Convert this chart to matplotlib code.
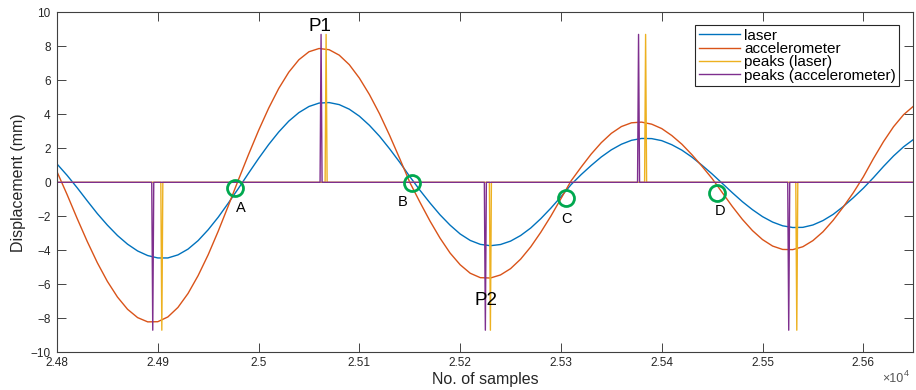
import numpy as np
import matplotlib
matplotlib.use("Agg")
import matplotlib.pyplot as plt

plt.rcParams['font.family'] = ['Liberation Sans', 'DejaVu Sans']

# samples every 10
x_start, x_step = 24800, 10
laser = [1.08, 0.41, -0.32, -1.09, -1.84, -2.52, -3.13, -3.64, -4.04, -4.31,
         -4.45, -4.45, -4.27, -3.93, -3.43, -2.79, -2.05, -1.22, -0.36, 0.53,
         1.40, 2.22, 2.96, 3.60, 4.10, 4.46, 4.66, 4.69, 4.57, 4.30,
         3.89, 3.35, 2.71, 1.97, 1.18, 0.34, -0.46, -1.21, -1.91, -2.52,
         -3.04, -3.42, -3.65, -3.73, -3.66, -3.46, -3.13, -2.69, -2.14, -1.52,
         -0.85, -0.14, 0.45, 0.99, 1.49, 1.91, 2.24, 2.47, 2.58, 2.57,
         2.45, 2.21, 1.89, 1.48, 1.00, 0.49, -0.06, -0.61, -1.14, -1.61,
         -2.02, -2.34, -2.56, -2.66, -2.65, -2.51, -2.25, -1.89, -1.43, -0.91,
         -0.35, 0.27, 0.93, 1.55, 2.09, 2.53]
accel = [0.62, -0.72, -2.13, -3.48, -4.73, -5.83, -6.75, -7.47, -7.96, -8.21,
         -8.20, -7.92, -7.36, -6.54, -5.49, -4.26, -2.87, -1.38, 0.15, 1.63,
         3.05, 4.36, 5.52, 6.48, 7.21, 7.68, 7.87, 7.80, 7.48, 6.92,
         6.13, 5.16, 4.03, 2.76, 1.40, 0.00, -1.16, -2.27, -3.28, -4.16,
         -4.85, -5.35, -5.61, -5.63, -5.45, -5.08, -4.52, -3.80, -2.94, -1.99,
         -0.96, 0.08, 0.89, 1.66, 2.33, 2.88, 3.28, 3.50, 3.54, 3.42,
         3.16, 2.75, 2.24, 1.62, 0.94, 0.22, -0.60, -1.42, -2.18, -2.84,
         -3.37, -3.75, -3.95, -3.96, -3.79, -3.43, -2.91, -2.24, -1.46, -0.62,
         0.32, 1.39, 2.39, 3.27, 3.98, 4.49]

# detected peaks (sample index, marker height)
peak_laser_idx = [24904, 25067, 25230, 25384, 25534]
peak_accel_idx = [24895, 25062, 25225, 25377, 25526]
peak_height = [-8.7, 8.7, -8.7, 8.7, -8.7]

# zero crossing markers
cross_names = ['A', 'B', 'C', 'D']
cross_x = [24976.6, 25151.9, 25304.7, 25455.1]
cross_y = [-0.35, -0.06, -0.91, -0.61]
cross_lx = [24982, 25143, 25306, 25458]
cross_ly = [-1.53, -1.16, -2.16, -1.71]

xs = x_start + x_step * np.arange(len(laser))
xp = np.arange(x_start, xs[-1] + 1)
pl = np.zeros(len(xp))
pa = np.zeros(len(xp))
for i, h in zip(peak_laser_idx, peak_height):
    pl[i - x_start] = h
for i, h in zip(peak_accel_idx, peak_height):
    pa[i - x_start] = h

fig = plt.figure(figsize=(9.16, 3.9), dpi=100)
ax = fig.add_axes([57 / 916, 1 - 352.3 / 390, (912.7 - 57) / 916, 340 / 390])

ax.plot(xs, laser, color='#0072BD', lw=1.0, label='laser')
ax.plot(xs, accel, color='#D95319', lw=1.0, label='accelerometer')
ax.plot(xp, pl, color='#EDB120', lw=1.0, label='peaks (laser)')
ax.plot(xp, pa, color='#7E2F8E', lw=1.0, label='peaks (accelerometer)')

ax.plot(cross_x, cross_y, 'o', mfc='none', mec='#00A84F', ms=11.5, mew=2.0)
for n, lx, ly in zip(cross_names, cross_lx, cross_ly):
    ax.text(lx, ly, n, ha='center', va='center', fontsize=10.5)
ax.text(25060.6, 9.14, 'P1', ha='center', va='center', fontsize=13.5)
ax.text(25225.4, -6.97, 'P2', ha='center', va='center', fontsize=13.5)

ax.set_xlim(24800, 25649)
ax.set_ylim(-10, 10)
ax.set_xticks(np.arange(24800, 25601, 100))
ax.set_xticklabels(['%g' % (t / 1e4) for t in np.arange(24800, 25601, 100)])
ax.set_yticks(np.arange(-10, 11, 2))
ax.tick_params(direction='in', top=True, right=True, length=6.5, width=0.6,
               labelsize=8.5, colors='#262626')
ax.tick_params(axis='x', pad=3.5)
ax.tick_params(axis='y', pad=4.5)
for s in ax.spines.values():
    s.set_color('#404040')
    s.set_linewidth(0.8)

ax.set_xlabel('No. of samples', fontsize=11.5, color='#262626', labelpad=2)
ax.set_ylabel('Displacement (mm)', fontsize=11.5, color='#262626', labelpad=3)
fig.text(893 / 916, 1 - 379 / 390, '\u00d710', fontsize=9, color='#555555',
         ha='center', va='center')
fig.text(906 / 916, 1 - 373 / 390, '4', fontsize=6.5, color='#555555',
         ha='center', va='center')

leg = ax.legend(loc='upper left', bbox_to_anchor=(695 / 916, 1 - 25 / 390),
                bbox_transform=fig.transFigure, borderaxespad=0, fontsize=11,
                handlelength=2.7, handletextpad=0.25, labelspacing=-0.05,
                borderpad=0.25, fancybox=False, framealpha=1)
leg.get_frame().set_edgecolor('#262626')
leg.get_frame().set_linewidth(0.8)

fig.savefig('out.png', dpi=100)
